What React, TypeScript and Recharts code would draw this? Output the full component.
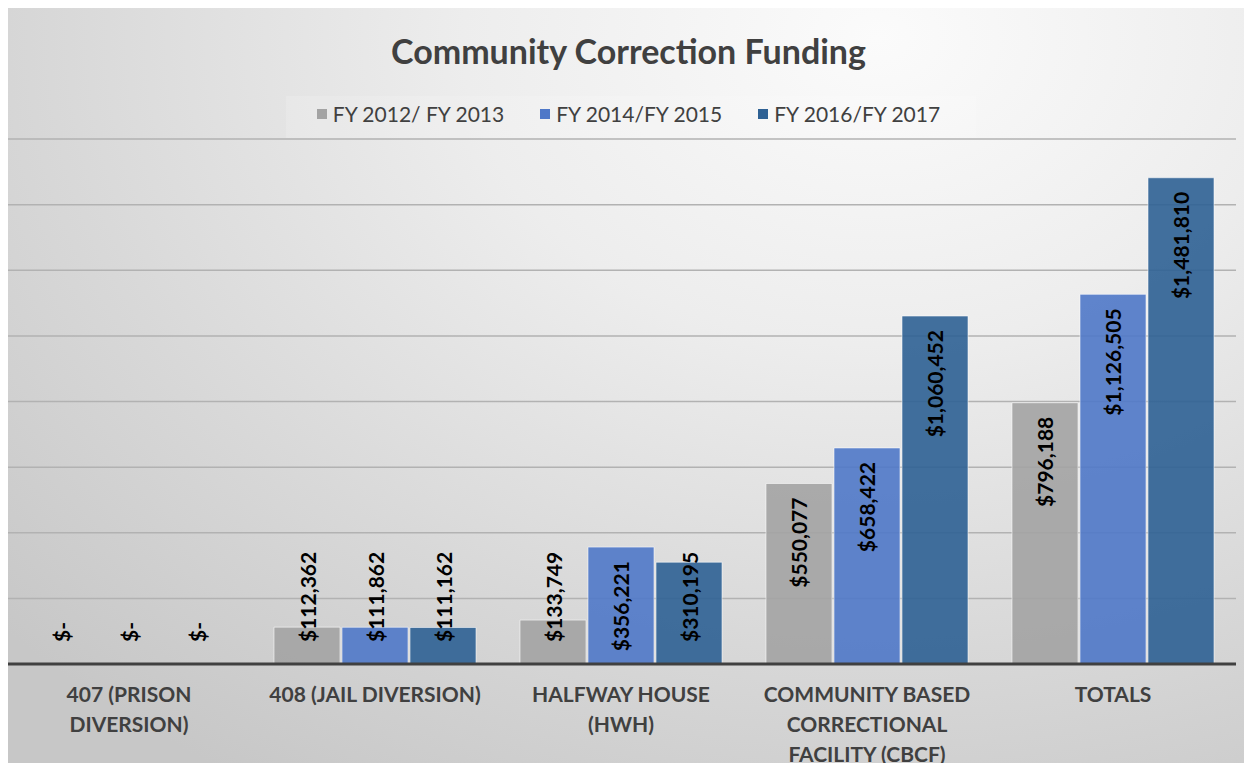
import { Bar, BarChart, CartesianGrid, LabelList, XAxis, YAxis } from 'recharts';

const categories = [
  '407 (PRISON DIVERSION)',
  '408 (JAIL DIVERSION)',
  'HALFWAY HOUSE (HWH)',
  'COMMUNITY BASED CORRECTIONAL FACILITY (CBCF)',
  'TOTALS',
];

// how Excel wrapped the category names under the axis
const tickLines = [
  ['407 (PRISON', 'DIVERSION)'],
  ['408 (JAIL DIVERSION)'],
  ['HALFWAY HOUSE', '(HWH)'],
  ['COMMUNITY BASED', 'CORRECTIONAL', 'FACILITY (CBCF)'],
  ['TOTALS'],
];

const fy1213 = [0, 112362, 133749, 550077, 796188];
const fy1415 = [0, 111862, 356221, 658422, 1126505];
const fy1617 = [0, 111162, 310195, 1060452, 1481810];

const yTicks = [0, 200000, 400000, 600000, 800000, 1000000, 1200000, 1400000, 1600000];

const SERIES = [
  { key: 'fy1213', name: 'FY 2012/ FY 2013', color: '#a3a3a3' },
  { key: 'fy1415', name: 'FY 2014/FY 2015', color: '#4f78c8' },
  { key: 'fy1617', name: 'FY 2016/FY 2017', color: '#2e6194' },
];

const FONT = 'Lato, "Open Sans", sans-serif';
const TEXT = '#404040';

const data = categories.map((name, i) => ({
  name,
  fy1213: fy1213[i],
  fy1415: fy1415[i],
  fy1617: fy1617[i],
}));

const money = (v: number) => (v === 0 ? '$-' : '$' + v.toLocaleString('en-US'));

/**
 * Excel's "inside end" label: text ends just under the bar top. When the bar
 * is too short to hold it, the label sits on a fixed spot above the axis.
 */
function BarValueLabel(props: any) {
  const { x, y, width, height, value } = props;
  const text = money(Number(value));
  const approxLen = text.length * 10;
  const cx = x + width / 2;
  const baseline = y + height;
  const fits = height >= approxLen + 36;
  const ay = fits ? y + 14 : baseline - 22;
  return (
    <text
      x={cx}
      y={ay}
      transform={`rotate(-90, ${cx}, ${ay})`}
      textAnchor={fits ? 'end' : 'start'}
      dominantBaseline="central"
      fontFamily={FONT}
      fontWeight={700}
      fontSize={21}
      fill="#000"
    >
      {text}
    </text>
  );
}

function CategoryTick(props: any) {
  const { x, y, payload } = props;
  const lines = tickLines[payload.index] ?? [payload.value];
  return (
    <text textAnchor="middle" fontFamily={FONT} fontWeight={700} fontSize={21} fill={TEXT}>
      {lines.map((line: string, i: number) => (
        <tspan key={line} x={x} y={y + 38 + i * 30}>
          {line}
        </tspan>
      ))}
    </text>
  );
}

export default function App() {
  return (
    <div style={{ position: 'relative', width: 1252, height: 771, margin: -8, overflow: 'hidden' }}>
      <div
        style={{
          position: 'absolute',
          left: 5,
          top: 6,
          width: 1245,
          height: 764,
          border: '1px solid #bdbdbd',
          background:
            'radial-gradient(ellipse 95% 115% at 70% 4%, #fbfbfb 0%, #ededed 35%, #d8d8d8 70%, #c7c7c7 100%)',
        }}
      >
        <div
          style={{
            position: 'absolute',
            top: 23,
            left: 0,
            width: 1245,
            textAlign: 'center',
            fontFamily: FONT,
            fontWeight: 700,
            fontSize: 34,
            lineHeight: '42px',
            color: TEXT,
          }}
        >
          Community Correction Funding
        </div>

        <div
          style={{
            position: 'absolute',
            top: 89,
            left: 280,
            width: 690,
            height: 42,
            background: 'rgba(255,255,255,0.15)',
          }}
        />

        <div
          style={{
            position: 'absolute',
            top: 93,
            left: 0,
            width: 1245,
            display: 'flex',
            justifyContent: 'center',
            gap: 36,
            fontFamily: FONT,
            fontSize: 21,
            lineHeight: '28px',
            color: TEXT,
          }}
        >
          {SERIES.map((s) => (
            <span key={s.key} style={{ display: 'flex', alignItems: 'center' }}>
              <span
                style={{ width: 10, height: 10, marginRight: 6, backgroundColor: s.color, display: 'inline-block' }}
              />
              {s.name}
            </span>
          ))}
        </div>

        <div style={{ position: 'absolute', left: 0, top: 0 }}>
          <BarChart
            width={1245}
            height={764}
            data={data}
            margin={{ top: 132, right: 15, bottom: 0, left: 0 }}
            barCategoryGap={22}
            barGap={2}
          >
            <CartesianGrid vertical={false} stroke="#b2b2b2" strokeWidth={1.5} />
            <YAxis hide domain={[0, 1600000]} ticks={yTicks} />
            <XAxis
              dataKey="name"
              height={107}
              interval={0}
              tickLine={false}
              tickSize={0}
              tickMargin={0}
              axisLine={{ stroke: '#404040', strokeWidth: 3 }}
              tick={<CategoryTick />}
            />
            {SERIES.map((s) => (
              <Bar
                key={s.key}
                dataKey={s.key}
                name={s.name}
                fill={s.color}
                fillOpacity={0.9}
                stroke="rgba(255,255,255,0.55)"
                strokeWidth={1}
                minPointSize={0.01}
                isAnimationActive={false}
              >
                <LabelList dataKey={s.key} content={<BarValueLabel />} />
              </Bar>
            ))}
          </BarChart>
        </div>
      </div>
    </div>
  );
}
